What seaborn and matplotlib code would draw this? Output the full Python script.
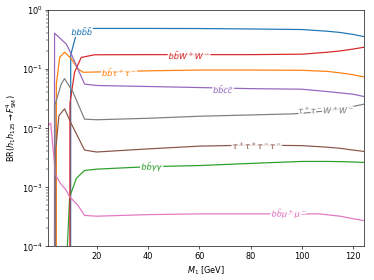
import numpy as np
import pandas as pd
import matplotlib
matplotlib.use("Agg")
import matplotlib.pyplot as plt
import matplotlib.patheffects as pe
import seaborn as sns

# Curvas (M1 en GeV, BR); 1e-7 = por debajo del eje
m_bbbb = [9.85, 9.9, 12.1, 14.5, 16, 20, 40, 60, 80, 100, 110, 115, 120, 124]
br_bbbb = [1e-7, 0.17, 0.39, 0.46, 0.48, 0.48, 0.48, 0.478, 0.47, 0.46, 0.43, 0.41, 0.38, 0.35]

m_bbtt = [4.25, 4.3, 5.6, 7.5, 10.1, 12.7, 14.7, 20, 40, 60, 80, 100, 110, 115, 120, 124]
br_bbtt = [1e-7, 0.055, 0.155, 0.19, 0.148, 0.10, 0.087, 0.088, 0.092, 0.095, 0.095, 0.094,
           0.09, 0.085, 0.079, 0.073]

m_bbaa = [8.55, 8.6, 9.5, 12.1, 15.3, 20, 40, 60, 80, 100, 110, 115, 120, 124]
br_bbaa = [1e-7, 1e-4, 0.00068, 0.0014, 0.0019, 0.002, 0.0022, 0.0023, 0.0025, 0.0027,
           0.0027, 0.00268, 0.00264, 0.0026]

m_bbww = [9.55, 9.6, 11.4, 14.0, 19.2, 40, 60, 80, 100, 110, 115, 120, 124]
br_bbww = [1e-7, 0.026, 0.087, 0.155, 0.172, 0.173, 0.173, 0.173, 0.176, 0.19, 0.2, 0.215, 0.23]

m_bbcc = [3.55, 3.6, 8.2, 10.1, 15.3, 20, 40, 60, 80, 100, 110, 115, 120, 124]
br_bbcc = [1e-7, 0.40, 0.26, 0.178, 0.055, 0.052, 0.05, 0.048, 0.046, 0.045, 0.041, 0.039,
           0.037, 0.034]

m_tttt = [3.95, 4.0, 4.3, 5.3, 7.5, 10.1, 15.3, 20, 40, 60, 80, 100, 110, 115, 120, 124]
br_tttt = [1e-7, 0.0045, 0.0055, 0.016, 0.021, 0.0118, 0.0042, 0.0039, 0.0044, 0.0049,
           0.0051, 0.0050, 0.0047, 0.0045, 0.0042, 0.0040]

m_bbmm = [1, 2.1, 4.0, 5.6, 8.2, 9.5, 12.7, 15.3, 20, 40, 60, 80, 100, 107, 112, 115, 120, 124]
br_bbmm = [0.011, 0.012, 0.0016, 0.0012, 0.00087, 0.00068, 0.00049, 0.00033, 0.00032,
           0.00034, 0.00035, 0.00035, 0.00035, 0.00035, 0.00033, 0.00032, 0.00029, 0.00027]

m_ttww = [3.75, 3.8, 4.3, 6.2, 7.5, 10.8, 15.3, 20, 40, 60, 80, 96, 100, 110, 115, 120, 124]
br_ttww = [1e-7, 0.025, 0.029, 0.055, 0.068, 0.040, 0.014, 0.0137, 0.0145, 0.0157, 0.0165,
           0.0172, 0.0176, 0.0195, 0.021, 0.023, 0.025]

canales = [r"$bb\bar{b}\bar{b}$", r"$b\bar{b}\tau^+\tau^-$", r"$b\bar{b}\gamma\gamma$",
           r"$b\bar{b}W^+W^-$", r"$b\bar{b}c\bar{c}$", r"$\tau^+\tau^+\tau^-\tau^-$",
           r"$b\bar{b}\mu^+\mu^-$", r"$\tau^+\tau^-W^+W^-$"]
series_m = [m_bbbb, m_bbtt, m_bbaa, m_bbww, m_bbcc, m_tttt, m_bbmm, m_ttww]
series_br = [br_bbbb, br_bbtt, br_bbaa, br_bbww, br_bbcc, br_tttt, br_bbmm, br_ttww]

# posicion de las etiquetas sobre cada curva
etiq_m = [14.5, 29, 41.8, 56.3, 69.5, 82.8, 95.2, 109.7]
etiq_br = [0.44, 0.089, 0.00224, 0.173, 0.046, 0.0051, 0.00036, 0.0204]

df = pd.concat([pd.DataFrame({'M': m, 'BR': br, 'canal': c})
                for m, br, c in zip(series_m, series_br, canales)], ignore_index=True)

colores = sns.color_palette('tab10', 8)

fig, ax = plt.subplots(figsize=(6.4, 4.8), dpi=58.44)
sns.lineplot(data=df, x='M', y='BR', hue='canal', hue_order=canales, palette=colores,
             estimator=None, sort=False, legend=False, ax=ax, linewidth=1.5)
ax.set_yscale('log')
ax.set_ylim(1e-4, 1)
ax.set_xlim(1, 124.2)
ax.set_xlabel(r"$M_1$ [GeV]")
ax.set_ylabel(r"BR$(h_1 h_{125}\to F^4_{\rm SM})$")

for c, xm, yb, col in zip(canales, etiq_m, etiq_br, colores):
    ax.text(xm, yb, c, color=col, ha='center', va='center', fontsize=10,
            path_effects=[pe.withStroke(linewidth=5, foreground='white', alpha=0.85)])

plt.subplots_adjust(left=0.128, right=0.973, top=0.964, bottom=0.121)
plt.savefig('out.png', dpi=58.44)
